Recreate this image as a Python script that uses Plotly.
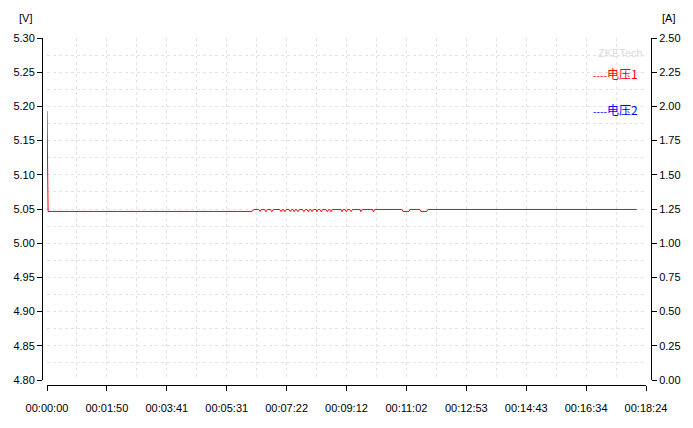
import plotly.graph_objects as go

# ---- data ----
time_s = [0, 1, 2, 378, 381,
          390, 392, 393, 395,
          401, 403, 404, 406,
          412, 414, 415, 417,
          429, 431, 432, 434,
          436, 438, 439, 441,
          446, 448, 449, 451,
          453, 455, 456, 458,
          460, 462, 463, 465,
          471, 473, 474, 476,
          479, 481, 482, 484,
          486, 488, 489, 491,
          496, 497, 498, 500,
          503, 505, 506, 508,
          514, 516, 517, 519,
          521, 523, 524, 526,
          542, 543, 544, 546,
          549, 551, 552, 554,
          558, 560, 561, 563,
          577, 578, 579, 581,
          600, 601, 602, 604,
          654, 656, 667, 669,
          687, 689, 700, 702,
          1087]
voltage1 = [5.193, 5.119, 5.0464, 5.0464, 5.0493,
            5.0493, 5.0464, 5.0464, 5.0493,
            5.0493, 5.0464, 5.0464, 5.0493,
            5.0493, 5.0464, 5.0464, 5.0493,
            5.0493, 5.0464, 5.0464, 5.0493,
            5.0493, 5.0464, 5.0464, 5.0493,
            5.0493, 5.0464, 5.0464, 5.0493,
            5.0493, 5.0464, 5.0464, 5.0493,
            5.0493, 5.0464, 5.0464, 5.0493,
            5.0493, 5.0464, 5.0464, 5.0493,
            5.0493, 5.0464, 5.0464, 5.0493,
            5.0493, 5.0464, 5.0464, 5.0493,
            5.0493, 5.0464, 5.0464, 5.0493,
            5.0493, 5.0464, 5.0464, 5.0493,
            5.0493, 5.0464, 5.0464, 5.0493,
            5.0493, 5.0464, 5.0464, 5.0493,
            5.0493, 5.0464, 5.0464, 5.0493,
            5.0493, 5.0464, 5.0464, 5.0493,
            5.0493, 5.0464, 5.0464, 5.0493,
            5.0493, 5.0464, 5.0464, 5.0493,
            5.0493, 5.0464, 5.0464, 5.0493,
            5.0493, 5.0464, 5.0464, 5.0493,
            5.0493, 5.0464, 5.0464, 5.0493,
            5.0493]
voltage2 = []  # blue series: no visible data
x_tick_labels = ["00:00:00", "00:01:50", "00:03:41", "00:05:31", "00:07:22",
                 "00:09:12", "00:11:02", "00:12:53", "00:14:43", "00:16:34",
                 "00:18:24"]
x_tick_seconds = [0, 110.4, 220.8, 331.2, 441.6, 552.0, 662.4, 772.8, 883.2, 993.6, 1104.0]
series_names = ["电压1", "电压2"]
series_colors = ["#ff0000", "#0000ff"]

FONT = "Liberation Sans, Arial, sans-serif"
GRID = "#e3e3e3"

fig = go.Figure()
fig.add_trace(go.Scatter(x=time_s, y=voltage1, mode="lines", name=series_names[0],
                         line=dict(color=series_colors[0], width=1), yaxis="y",
                         showlegend=False))
fig.add_trace(go.Scatter(x=[], y=voltage2, mode="lines", name=series_names[1],
                         line=dict(color=series_colors[1], width=1), yaxis="y2",
                         showlegend=False))

W, H = 693, 428
L, R, T, B = 42, 42, 38, 43
pw = W - L - R
ph = H - T - B


def px(xp):
    return (xp - L) / pw


def py(yp):
    return (H - B - yp) / ph


common_axis = dict(showline=True, linecolor="black", linewidth=1, ticks="outside",
                   ticklen=5, tickcolor="black", tickwidth=1, zeroline=False,
                   tickfont=dict(family=FONT, size=11, color="black"))

fig.update_layout(
    width=W, height=H,
    margin=dict(l=L, r=R, t=T, b=B, pad=0),
    paper_bgcolor="white", plot_bgcolor="white",
    font=dict(family=FONT, size=11, color="black"),
    showlegend=False,
    xaxis=dict(domain=[px(47), px(646)], range=[0, 1104], anchor="free", position=0,
               tickmode="array", tickvals=x_tick_seconds, ticktext=x_tick_labels,
               showgrid=True, gridcolor=GRID, griddash="3px,3px", gridwidth=1,
               minor=dict(dtick=55.2, tick0=0, showgrid=True, gridcolor=GRID,
                          griddash="3px,3px", ticks=""),
               ticklabelstandoff=8,
               **common_axis),
    yaxis=dict(domain=[py(380), 1], range=[4.80, 5.30], dtick=0.05, tick0=4.8,
               tickformat=".2f", anchor="free", position=0, side="left",
               showgrid=True, gridcolor=GRID, griddash="3px,3px", gridwidth=1,
               minor=dict(dtick=0.025, tick0=4.8, showgrid=True, gridcolor=GRID,
                          griddash="3px,3px", ticks=""),
               **common_axis),
    yaxis2=dict(domain=[py(380), 1], range=[0, 2.5], dtick=0.25, tick0=0,
                tickformat=".2f", anchor="free", position=1, side="right",
                overlaying="y", showgrid=False,
                **common_axis),
)

ann = [
    dict(x=px(25), y=py(18), text="[V]"),
    dict(x=px(668), y=py(18), text="[A]"),
]
for a in ann:
    fig.add_annotation(xref="paper", yref="paper", showarrow=False,
                       xanchor="center", yanchor="middle",
                       font=dict(family=FONT, size=11, color="black"), **a)

fig.add_annotation(xref="paper", yref="paper", x=px(645), y=py(53), xanchor="right",
                   yanchor="middle", showarrow=False, text="ZKETech",
                   font=dict(family=FONT, size=11, color="#dcdcdc"))
for name, color, yp in zip(series_names, series_colors, [73, 109]):
    fig.add_annotation(xref="paper", yref="paper", x=px(640), y=py(yp), xanchor="right",
                       yanchor="middle", showarrow=False,
                       text="<span style='font-size:10px'>----</span>" + name,
                       font=dict(family="Noto Sans CJK SC, " + FONT, size=12, color=color))

fig.write_html("out.html", config={"displayModeBar": False},
               post_script="document.body.style.margin='0';document.body.style.padding='0';")
